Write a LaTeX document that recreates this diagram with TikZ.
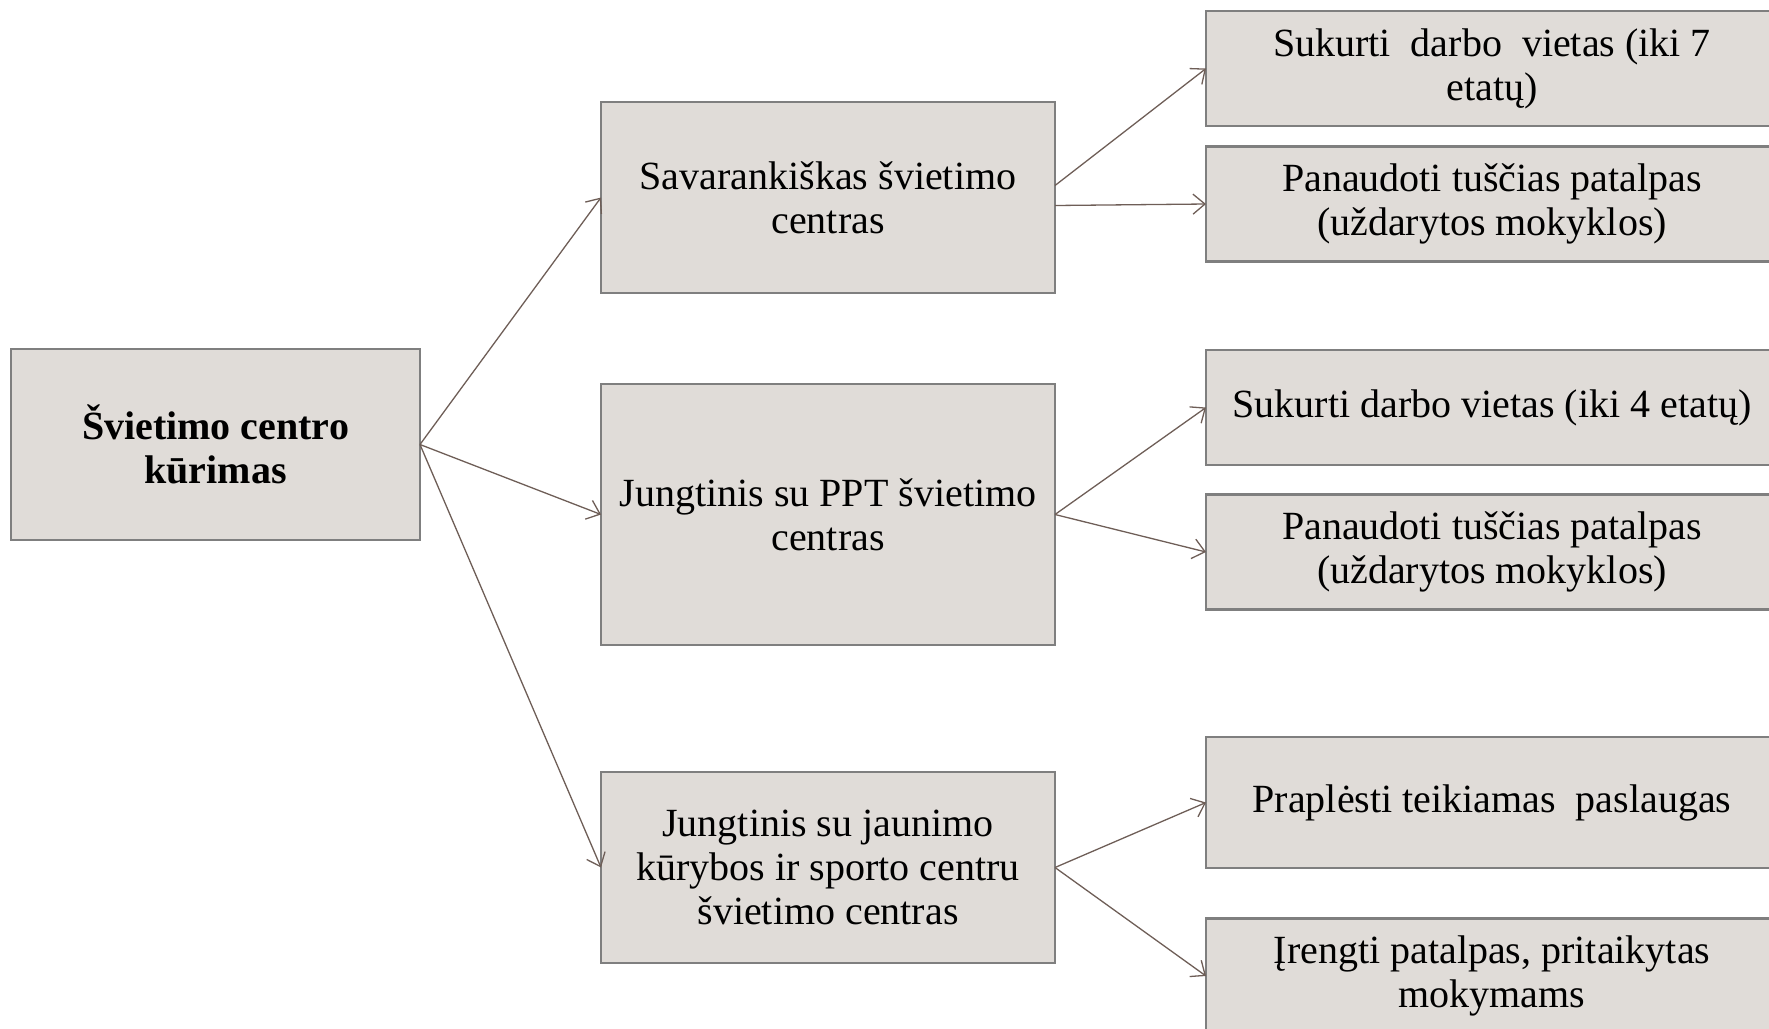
\documentclass[tikz,border=0pt]{standalone}
\usepackage{fontspec}
\setmainfont{Liberation Serif}
\usetikzlibrary{positioning,arrows.meta}
\usepackage{xcolor}
\definecolor{boxfill}{HTML}{E0DCD8}
\definecolor{boxline}{HTML}{7F7F7F}
\definecolor{linkcol}{HTML}{6E5E57}

\begin{document}
\begin{tikzpicture}[
every node/.style = {shape=rectangle, draw=boxline, fill=boxfill, line width=1.1pt, align=center, outer sep=0pt, font=\fontsize{20}{22}\selectfont},
rootbox/.style = {minimum width=204.5pt, minimum height=95.5pt, font=\fontsize{20}{22}\selectfont\bfseries},
midbox/.style = {minimum width=227pt, minimum height=95.5pt},
leafbox/.style = {minimum width=286pt, minimum height=57.5pt},
link/.style = {draw=linkcol, line width=0.65pt, -{Straight Barb[length=6pt,width=10pt]}},
]
\useasboundingbox (0,0) rectangle (884.5pt,-514.5pt);
  % root
  \node[rootbox] (root) at (107.75pt,-222.25pt) {Švietimo centro\\kūrimas};
  % middle column
  \node[midbox, right=90.5pt of root, yshift=123.5pt] (indep) {Savarankiškas švietimo\\centras};
  \node[midbox, minimum height=130.5pt, right=90.5pt of root, yshift=-35pt] (ppt) {Jungtinis su PPT švietimo\\centras};
  \node[midbox, right=90.5pt of root, yshift=-211.5pt] (youth) {Jungtinis su jaunimo\\kūrybos ir sporto centru\\švietimo centras};
  % right column
  \node[leafbox, right=75.5pt of indep, yshift=64.5pt] (jobsA) {Sukurti\ \ darbo\ \ vietas (iki 7\\etatų)};
  \node[leafbox, right=75.5pt of indep, yshift=-3.25pt] (roomsA) {Panaudoti tuščias patalpas\\(uždarytos mokyklos)};
  \node[leafbox, right=75.5pt of ppt, yshift=53.5pt] (jobsB) {Sukurti darbo vietas (iki 4 etatų)};
  \node[leafbox, right=75.5pt of ppt, yshift=-18.75pt] (roomsB) {Panaudoti tuščias patalpas\\(uždarytos mokyklos)};
  \node[leafbox, minimum height=65.5pt, right=75.5pt of youth, yshift=32.5pt] (services) {Praplėsti teikiamas\ \ paslaugas};
  \node[leafbox, right=75.5pt of youth, yshift=-54.25pt] (rooms) {Įrengti patalpas, pritaikytas\\mokymams};

  \draw[link] (root.east) -- (indep.west);
  \draw[link] (root.east) -- (ppt.west);
  \draw[link] (root.east) -- (youth.west);
  \draw[link] ([yshift=6pt]indep.east) -- (jobsA.west);
  \draw[link] ([yshift=-4pt]indep.east) -- (roomsA.west);
  \draw[link] (ppt.east) -- (jobsB.west);
  \draw[link] (ppt.east) -- (roomsB.west);
  \draw[link] (youth.east) -- (services.west);
  \draw[link] (youth.east) -- (rooms.west);
\end{tikzpicture}
\end{document}
